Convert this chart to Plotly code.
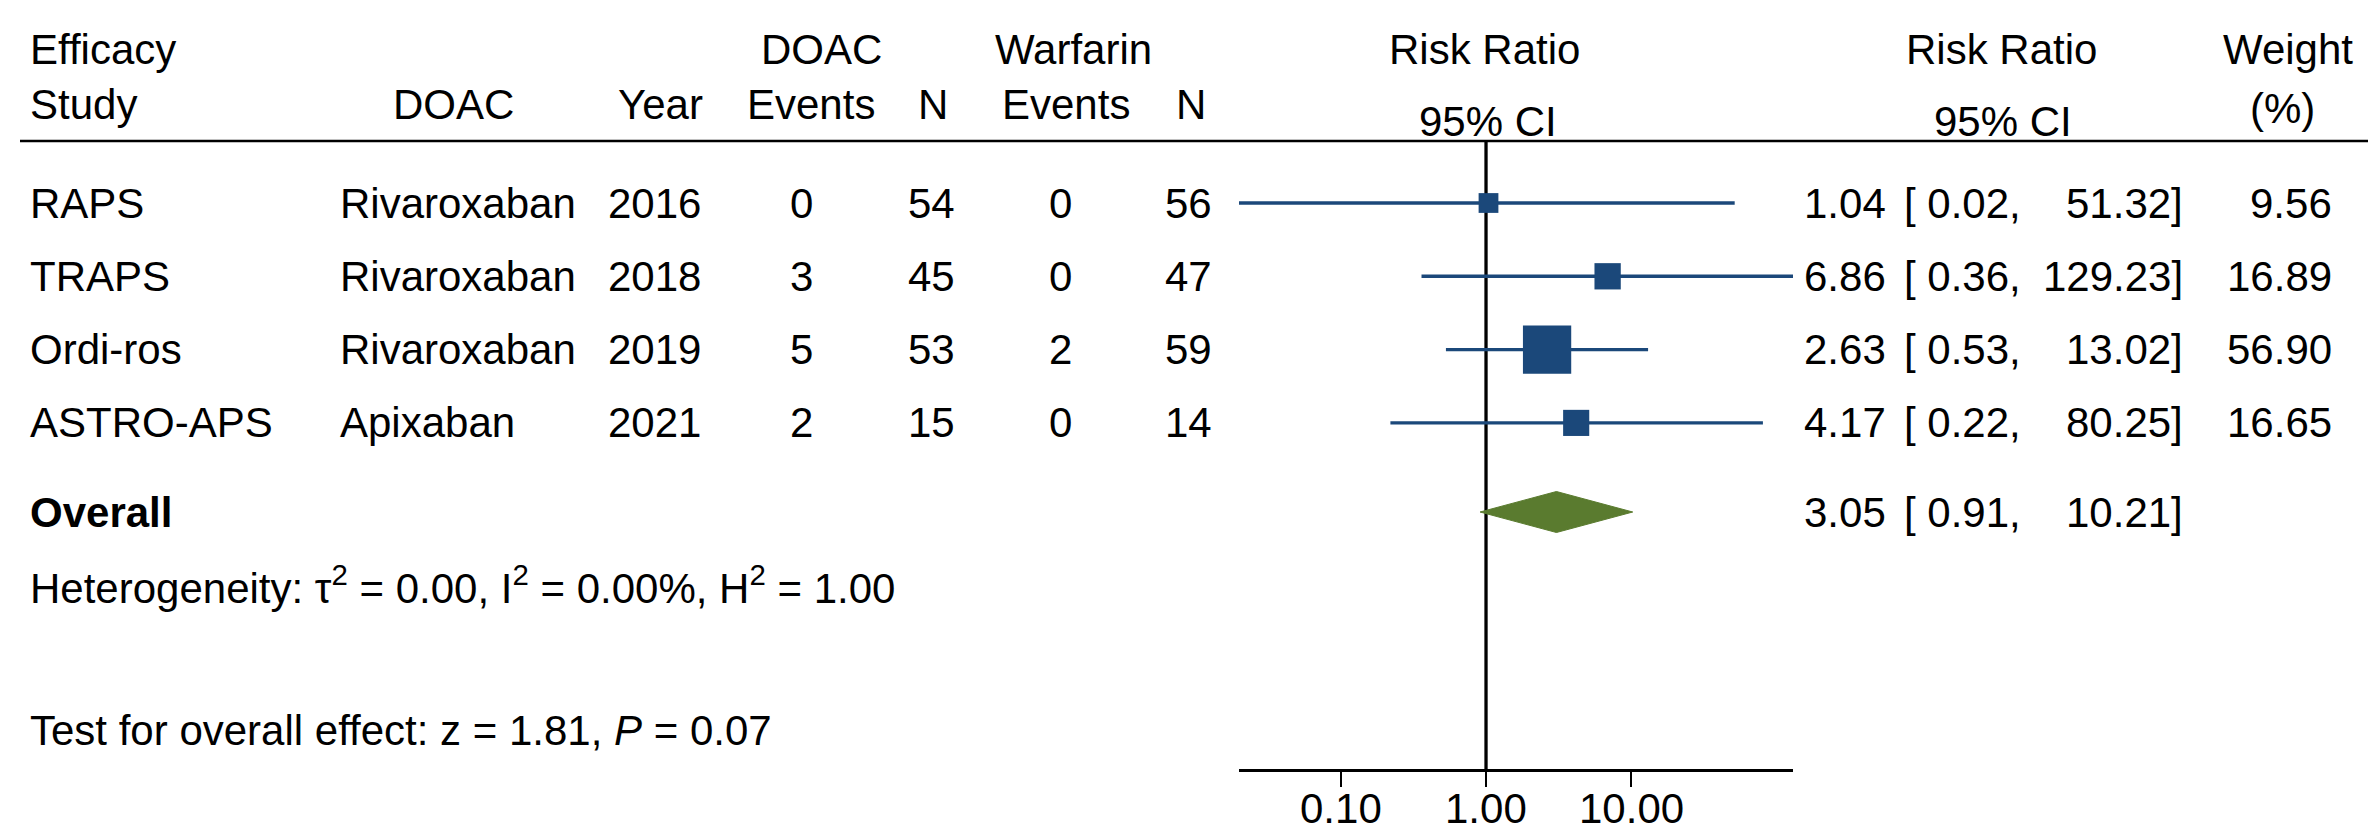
import math
import plotly.graph_objects as go

# ---------------- data ----------------
studies = ["RAPS", "TRAPS", "Ordi-ros", "ASTRO-APS"]
drugs = ["Rivaroxaban", "Rivaroxaban", "Rivaroxaban", "Apixaban"]
years = [2016, 2018, 2019, 2021]
doac_events = [0, 3, 5, 2]
doac_n = [54, 45, 53, 15]
warf_events = [0, 0, 2, 0]
warf_n = [56, 47, 59, 14]
rr = [1.04, 6.86, 2.63, 4.17]
rr_lo = [0.02, 0.36, 0.53, 0.22]
rr_hi = [51.32, 129.23, 13.02, 80.25]
weights = [9.56, 16.89, 56.90, 16.65]
overall_rr = 3.05
overall_lo = 0.91
overall_hi = 10.21
tick_vals = [0.1, 1, 10]
tick_text = ["0.10", "1.00", "10.00"]
heterogeneity = "Heterogeneity: τ<sup>2</sup> = 0.00, I<sup>2</sup> = 0.00%, H<sup>2</sup> = 1.00"
overall_test = "Test for overall effect: z = 1.81, <i>P</i> = 0.07"

# ---------------- layout helpers ----------------
W, H = 2376, 834
ROW_PX = 73.3          # pixel spacing between study rows
FIRST_ROW_PX = 195     # pixel y of first study row
Y_TOP = -FIRST_ROW_PX / ROW_PX
Y_BOT = (H - FIRST_ROW_PX) / ROW_PX


def ry(px):
    """pixel y -> row units"""
    return Y_TOP + px / H * (Y_BOT - Y_TOP)


def fx(px):
    return px / W


FONT = "Liberation Sans, Arial, Helvetica, sans-serif"
FS = 42
BLUE = "#1b487a"
GREEN = "#5a7b2f"

overall_row = ry(504)
rule_row = ry(133)
axis_px = 762
axis_row = ry(axis_px)

fig = go.Figure()

# CI lines
for i in range(len(studies)):
    fig.add_trace(go.Scatter(
        x=[rr_lo[i], rr_hi[i]], y=[i, i], mode="lines",
        line=dict(color=BLUE, width=3.4), hoverinfo="skip", showlegend=False))

# weighted squares
fig.add_trace(go.Scatter(
    x=rr, y=list(range(len(studies))), mode="markers",
    marker=dict(symbol="square", color=BLUE, opacity=1,
                size=[6.4 * math.sqrt(w) for w in weights], line=dict(width=0)),
    hoverinfo="skip", showlegend=False))

# overall diamond
dh = 20.5 / ROW_PX
fig.add_trace(go.Scatter(
    x=[overall_lo, overall_rr, overall_hi, overall_rr, overall_lo],
    y=[overall_row, overall_row - dh, overall_row, overall_row + dh, overall_row],
    mode="lines", fill="toself", fillcolor=GREEN,
    line=dict(color=GREEN, width=1), hoverinfo="skip", showlegend=False))

# reference line at RR = 1
fig.add_shape(type="line", xref="x", yref="y", x0=1, x1=1, y0=rule_row, y1=axis_row,
              line=dict(color="black", width=3.3), layer="below")

# header rule
fig.add_shape(type="line", xref="paper", yref="y", x0=fx(12), x1=fx(2366),
              y0=rule_row, y1=rule_row, line=dict(color="black", width=2.5))

annotations = []


def txt(x_px, y, text, anchor="center", bold=False):
    annotations.append(dict(
        x=fx(x_px), y=y, xref="paper", yref="y", text=("<b>%s</b>" % text) if bold else text,
        showarrow=False, xanchor=anchor, yanchor="middle",
        font=dict(family=FONT, size=FS, color="black")))


# headers
h1, h2, h3 = ry(41), ry(96), ry(113)
txt(20, h1, "Efficacy", "left")
txt(20, h2, "Study", "left")
txt(445, h2, "DOAC")
txt(652, h2, "Year")
txt(813, h1, "DOAC")
txt(803, h2, "Events")
txt(925, h2, "N")
txt(1065, h1, "Warfarin")
txt(1058, h2, "Events")
txt(1183, h2, "N")
txt(1476, h1, "Risk Ratio")
txt(1480, h3, "95% CI")
txt(1993, h1, "Risk Ratio")
txt(1995, h3, "95% CI")
txt(2280, h1, "Weight")
txt(2274, ry(100), "(%)")

# study rows
for i in range(len(studies)):
    txt(20, i, studies[i], "left")
    txt(330, i, drugs[i], "left")
    txt(646, i, str(years[i]))
    txt(793, i, str(doac_events[i]))
    txt(923, i, str(doac_n[i]))
    txt(1052, i, str(warf_events[i]))
    txt(1180, i, str(warf_n[i]))
    txt(1880, i, "%.2f" % rr[i], "right")
    txt(1894, i, "[ %.2f," % rr_lo[i], "left")
    txt(2177, i, "%.2f]" % rr_hi[i], "right")
    txt(2326, i, "%.2f" % weights[i], "right")

# overall row
txt(20, overall_row, "Overall", "left", bold=True)
txt(1880, overall_row, "%.2f" % overall_rr, "right")
txt(1894, overall_row, "[ %.2f," % overall_lo, "left")
txt(2177, overall_row, "%.2f]" % overall_hi, "right")

txt(20, ry(577), heterogeneity, "left")
txt(20, ry(722), overall_test, "left")

# x-axis tick labels placed through the x scale
for v, t in zip(tick_vals, tick_text):
    annotations.append(dict(
        x=math.log10(v), y=ry(800), xref="x", yref="y", text=t, showarrow=False,
        xanchor="center", yanchor="middle",
        font=dict(family=FONT, size=FS, color="black")))

lo_lim = min(rr_lo)
hi_lim = max(rr_hi)

fig.update_layout(
    width=W, height=H,
    margin=dict(l=0, r=0, t=0, b=0),
    paper_bgcolor="white", plot_bgcolor="white",
    annotations=annotations,
    xaxis=dict(
        type="log", domain=[fx(1231), fx(1785)],
        range=[math.log10(lo_lim), math.log10(hi_lim)],
        anchor="free", position=1 - axis_px / H,
        showline=True, linecolor="black", linewidth=3,
        ticks="outside", ticklen=15, tickwidth=2, tickcolor="black",
        tickvals=tick_vals, showticklabels=False,
        showgrid=False, zeroline=False),
    yaxis=dict(range=[Y_BOT, Y_TOP], domain=[0, 1], visible=False,
               showgrid=False, zeroline=False),
)

fig.write_html("out.html")
